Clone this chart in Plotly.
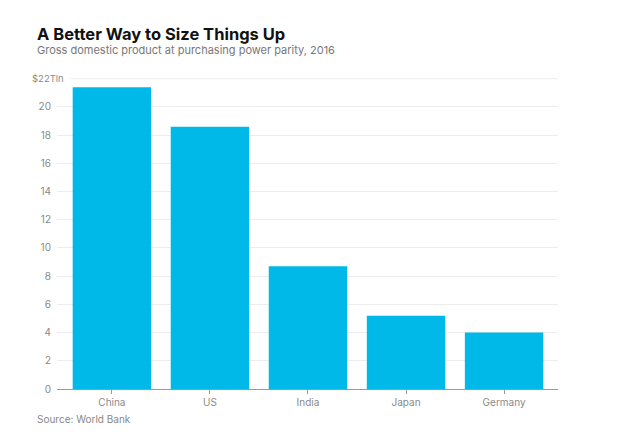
import plotly.graph_objects as go

countries = ["China", "US", "India", "Japan", "Germany"]
gdp_ppp = [21.4, 18.6, 8.7, 5.2, 4.0]
y_ticks = [0, 2, 4, 6, 8, 10, 12, 14, 16, 18, 20]
top_tick = 22
top_label = "$22Tln"

OFF = 8  # page body margin
W, H = 621 - OFF, 439 - OFF
# desired plot area in page pixels: x 57..558, y 78..389
PX0, PX1, PY0, PY1 = 57, 558, 78, 389
L, T = PX0 - OFF, PY0 - OFF
R, B = W - (PX1 - OFF), H - (PY1 - OFF)
PW, PH = PX1 - PX0, PY1 - PY0


def px(x):
    return (x - PX0) / PW


def py(y):
    return (PY1 - y) / PH


fig = go.Figure()
fig.add_trace(go.Bar(
    x=countries, y=gdp_ppp,
    marker=dict(color="#00B9E8", line=dict(width=0)),
    width=0.8,
    hoverinfo="x+y",
))

fig.update_layout(
    width=W, height=H,
    margin=dict(l=L, r=R, t=T, b=B),
    paper_bgcolor="white", plot_bgcolor="white",
    showlegend=False,
    font=dict(family="Inter, Roboto, sans-serif", color="#888"),
)
fig.update_xaxes(
    range=[-0.56, 4.55],
    showgrid=False,
    showline=True, linecolor="#999", linewidth=1,
    ticks="outside", ticklen=4, tickcolor="#999",
    tickfont=dict(size=10, color="#8a8a8a", family="Inter, sans-serif"),
    fixedrange=True,
)
fig.update_yaxes(
    range=[0, 22.05],
    tickvals=y_ticks,
    ticktext=[str(v) for v in y_ticks],
    showgrid=True, gridcolor="#ededed", gridwidth=1,
    zeroline=False,
    showline=False,
    ticks="", ticklabelstandoff=5,
    tickfont=dict(size=10, color="#8a8a8a", family="Inter, sans-serif"),
    fixedrange=True,
)

# top gridline with the unit label
fig.add_shape(type="line", xref="paper", yref="y",
              x0=px(70), x1=1, y0=top_tick, y1=top_tick,
              line=dict(color="#ededed", width=1), layer="below")
fig.add_annotation(text=top_label, xref="paper", yref="y",
                   x=px(66), y=top_tick, xanchor="right", yanchor="middle",
                   showarrow=False, font=dict(size=9.5, color="#8a8a8a", family="Inter, sans-serif"))

# title / subtitle / source
fig.add_annotation(text="<b>A Better Way to Size Things Up</b>", xref="paper", yref="paper",
                   x=px(35), xanchor="left", y=py(22), yanchor="top",
                   showarrow=False, font=dict(size=16.5, color="#111", family="Inter, sans-serif", weight=900))
fig.add_annotation(text="Gross domestic product at purchasing power parity, 2016", xref="paper", yref="paper",
                   x=px(35), xanchor="left", y=py(41), yanchor="top",
                   showarrow=False, font=dict(size=11, color="#777", family="Inter, sans-serif"))
fig.add_annotation(text="Source: World Bank", xref="paper", yref="paper",
                   x=px(35), xanchor="left", y=py(411), yanchor="top",
                   showarrow=False, font=dict(size=10, color="#888", family="Inter, sans-serif"))

fig.write_html("out.html")
